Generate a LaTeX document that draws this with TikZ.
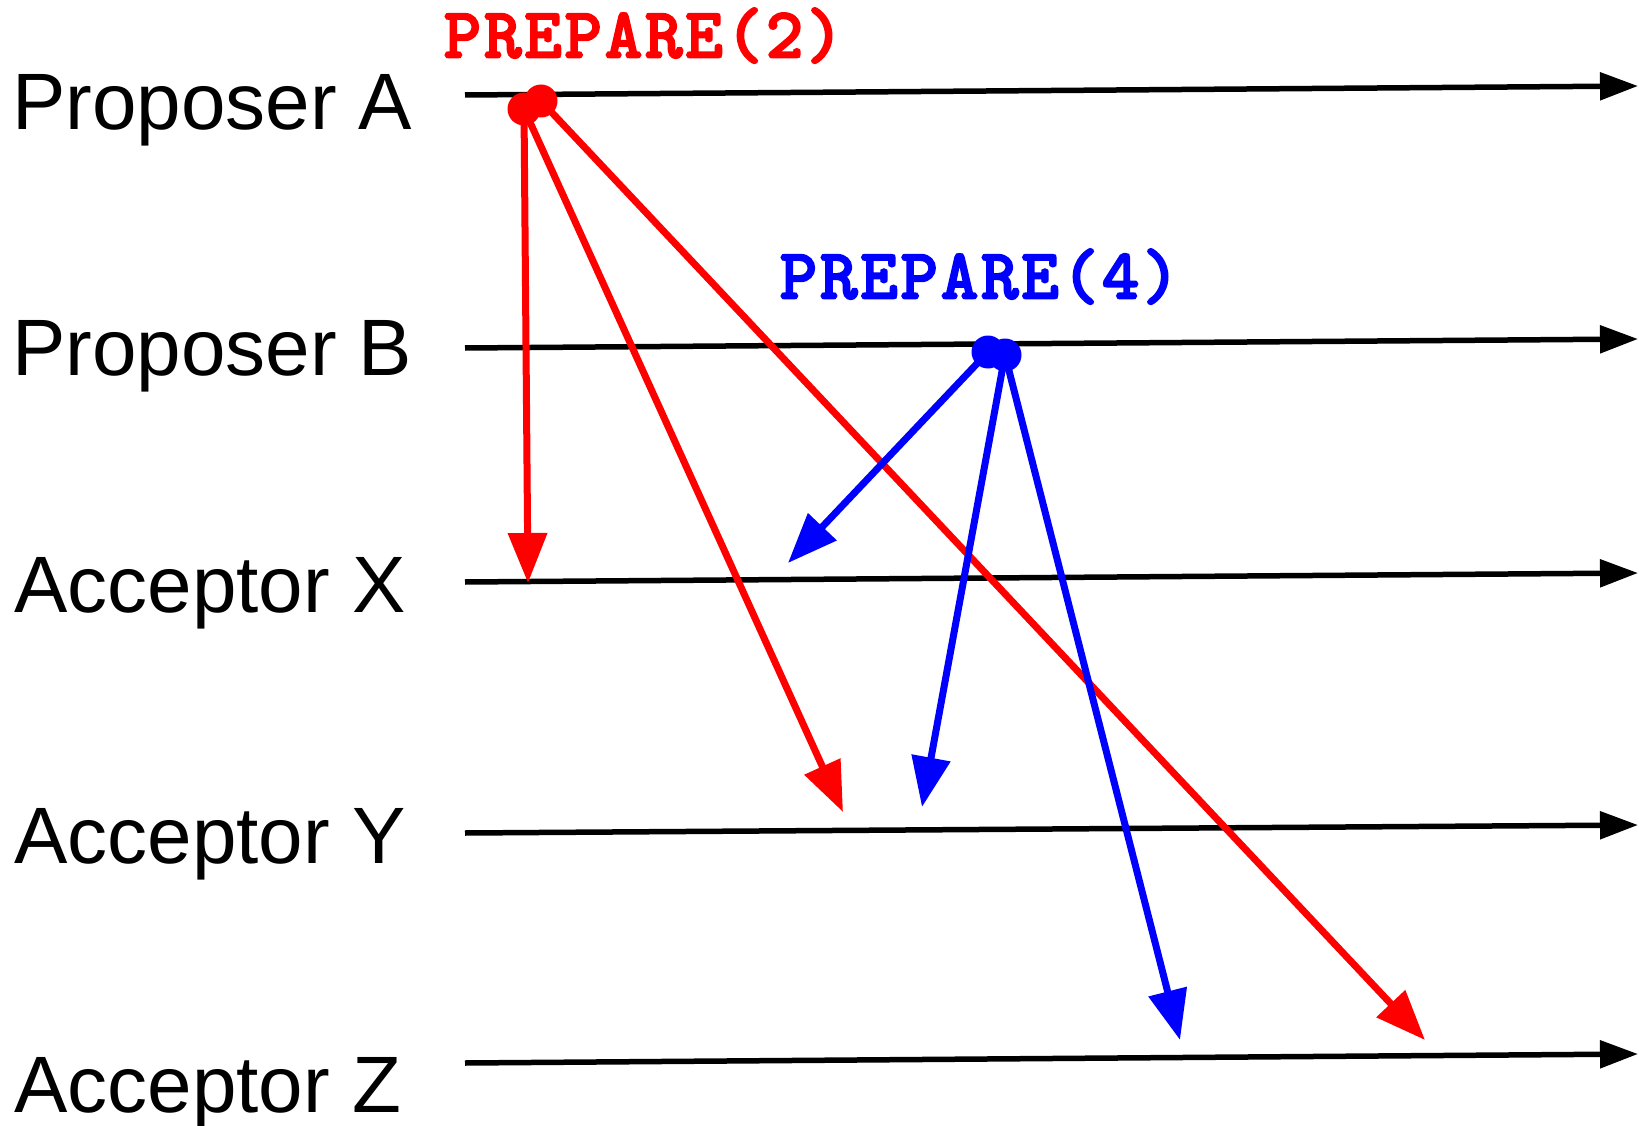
\documentclass[tikz,border=0pt]{standalone}
\usepackage{fontspec}
\setmainfont{Liberation Sans}
\newfontfamily\ballotfont[Extension=.otf, FakeBold=4, LetterSpace=5]{lmmono10-regular}
\usetikzlibrary{arrows.meta}

\begin{document}
\begin{tikzpicture}[x=1pt, y=-1pt,
    timeline/.style={line width=5.5pt, -{Triangle[length=38pt,width=27pt]}},
    msg/.style={line width=7pt, -{Triangle[length=50pt,width=38pt]}},
    dot/.style={circle, fill=#1, inner sep=0pt, minimum size=33pt},
    role/.style={anchor=base west, inner sep=0pt, font=\fontsize{80}{96}\selectfont},
    ballot/.style={anchor=base west, inner sep=0pt,
      font=\fontsize{70}{84}\selectfont\ballotfont}]
  \def\Xs{465}   % left end of every timeline
  \def\Xe{1638}  % arrow tip on the right

  \useasboundingbox (0,0) rectangle (1639,1126);

  % ----- roles -----
  \node[role] (lblA) at (12,130) {Proposer A};
  \node[role] (lblB) at (12,375) {Proposer B};
  \node[role] (lblX) at (14,612) {Acceptor X};
  \node[role] (lblY) at (14,863) {Acceptor Y};
  \node[role] (lblZ) at (14,1112) {Acceptor Z};

  % ----- timelines -----
  \coordinate (A0) at (\Xs,95);   \coordinate (A1) at (\Xe,86);
  \coordinate (B0) at (\Xs,348);  \coordinate (B1) at (\Xe,339);
  \coordinate (X0) at (\Xs,582);  \coordinate (X1) at (\Xe,573);
  \coordinate (Y0) at (\Xs,833);  \coordinate (Y1) at (\Xe,825);
  \coordinate (Z0) at (\Xs,1063); \coordinate (Z1) at (\Xe,1054);
  \draw[timeline] (A0) -- (A1);
  \draw[timeline] (B0) -- (B1);
  \draw[timeline] (X0) -- (X1);
  \draw[timeline] (Y0) -- (Y1);
  \draw[timeline] (Z0) -- (Z1);

  % ----- prepare(2) from A -----
  \node[ballot, red] (prepA) at (444,57) {PREPARE(2)};
  \coordinate (a1) at (524,109);
  \coordinate (a2) at (541,101);
  \coordinate (rX) at (528,583);
  \coordinate (rY) at (843,812);
  \coordinate (rZ) at (1425,1040);
  \draw[msg, red] (a1) -- (rX);
  \draw[msg, red] (a1) -- (rY);
  \draw[msg, red] (a2) -- (rZ);
  \node[dot=red] (dotA1) at (a1) {};
  \node[dot=red] (dotA2) at (a2) {};

  % ----- prepare(4) from B -----
  \node[ballot, blue] (prepB) at (780,298) {PREPARE(4)};
  \coordinate (b1) at (988,352);
  \coordinate (b2) at (1005,355);
  \coordinate (bX) at (788,563);
  \coordinate (bY) at (922,807);
  \coordinate (bZ) at (1180,1040);
  \draw[msg, blue] (b1) -- (bX);
  \draw[msg, blue] (b2) -- (bY);
  \draw[msg, blue] (b2) -- (bZ);
  \node[dot=blue] (dotB1) at (b1) {};
  \node[dot=blue] (dotB2) at (b2) {};
\end{tikzpicture}
\end{document}
